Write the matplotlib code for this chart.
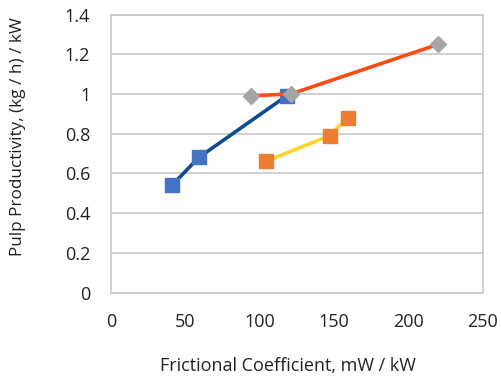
import matplotlib.pyplot as plt

# data
blue_x = [41, 59, 118]
blue_y = [0.54, 0.68, 0.99]
orange_x = [104, 147, 159]
orange_y = [0.66, 0.79, 0.88]
gray_x = [94, 121, 220]
gray_y = [0.99, 1.0, 1.25]

plt.rcParams['font.family'] = ['Open Sans', 'DejaVu Sans']

fig = plt.figure(figsize=(5.01, 3.79), dpi=100)
ax = fig.add_axes([111/501, 1 - 292.5/379, 372/501, 278/379])

ax.plot(blue_x, blue_y, color='#0E4C92', lw=2.6, zorder=3)
ax.plot(blue_x, blue_y, ls='none', marker='s', ms=10, color='#4472C4', zorder=4)
ax.plot(orange_x, orange_y, color='#FFD42A', lw=2.6, zorder=3)
ax.plot(orange_x, orange_y, ls='none', marker='s', ms=10, color='#ED7D31', zorder=4)
ax.plot(gray_x, gray_y, color='#FF4A12', lw=2.6, zorder=5)
ax.plot(gray_x, gray_y, ls='none', marker='D', ms=8, color='#A5A5A5', zorder=6)

ax.set_xlim(0, 250)
ax.set_ylim(0, 1.4)
ax.set_xticks([0, 50, 100, 150, 200, 250])
ax.set_yticks([0, 0.2, 0.4, 0.6, 0.8, 1.0, 1.2, 1.4])
ax.set_yticklabels(['0', '0.2', '0.4', '0.6', '0.8', '1', '1.2', '1.4'])
ax.yaxis.grid(True, color='#C8C8C8', lw=1.2)
ax.set_axisbelow(True)
for s in ax.spines.values():
    s.set_color('#C8C8C8')
    s.set_linewidth(1.2)
ax.tick_params(length=0, labelsize=13, colors='#222222')
ax.tick_params(axis='y', pad=15)
ax.tick_params(axis='x', pad=15)

# axis titles placed like the original (not centred on the plot area)
fig.text(288/501, 1 - 366/379, 'Frictional Coefficient, mW / kW',
         fontsize=13, color='#222222', ha='center', va='center')
fig.text(18/501, 1 - 137/379, 'Pulp Productivity, (kg / h) / kW',
         fontsize=12.3, color='#222222', ha='center', va='center', rotation=90)

fig.savefig('out.png')
